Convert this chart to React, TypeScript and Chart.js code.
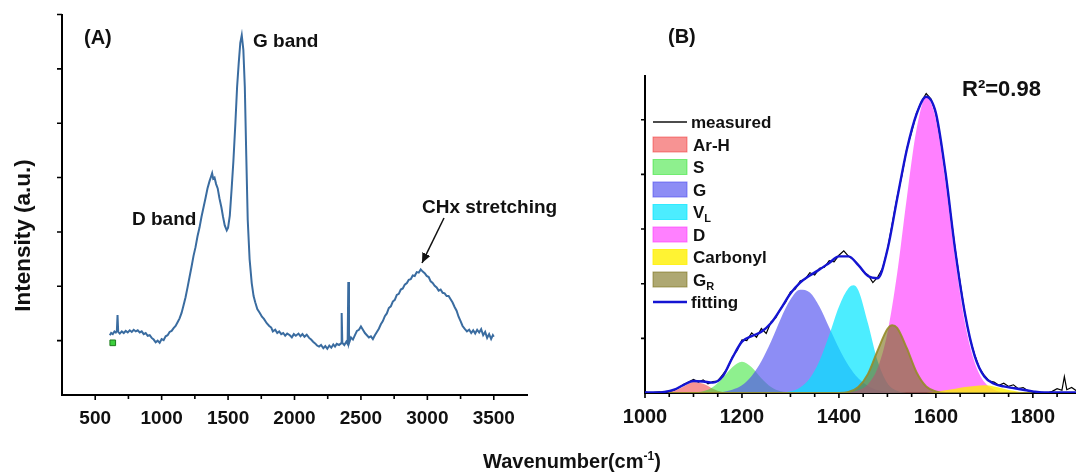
import React, { useEffect, useRef } from "react";
import { Chart, registerables } from "chart.js";

Chart.register(...registerables);

const FONT = "'Liberation Sans', Arial, Helvetica, sans-serif";

// ---------------- Panel A : full Raman spectrum ----------------
const specAX = [
  610, 620, 632, 645, 655, 663, 668, 673, 685, 700,
  715, 730, 745, 760, 775, 790, 805, 820, 835, 850,
  865, 880, 895, 910, 925, 940, 955, 970, 985, 1000,
  1015, 1030, 1045, 1060, 1075, 1090, 1105, 1120, 1135, 1150,
  1165, 1180, 1195, 1210, 1225, 1240, 1255, 1270, 1285, 1300,
  1315, 1330, 1345, 1360, 1372, 1380, 1388, 1398, 1410, 1422,
  1435, 1450, 1462, 1475, 1490, 1500, 1513, 1527, 1540, 1555,
  1568, 1580, 1592, 1603, 1615, 1626, 1637, 1648, 1662, 1678,
  1692, 1705, 1720, 1739, 1755, 1770, 1791, 1810, 1825, 1837,
  1855, 1870, 1885, 1900, 1915, 1930, 1945, 1965, 1980, 1995,
  2010, 2030, 2045, 2060, 2075, 2092, 2110, 2125, 2140, 2155,
  2170, 2185, 2200, 2217, 2232, 2247, 2262, 2277, 2292, 2305,
  2318, 2335, 2350, 2355, 2360, 2375, 2390, 2400, 2405, 2410,
  2425, 2440, 2455, 2470, 2485, 2500, 2515, 2530, 2545, 2560,
  2575, 2590, 2605, 2620, 2635, 2650, 2665, 2680, 2695, 2710,
  2725, 2740, 2755, 2770, 2785, 2800, 2815, 2830, 2846, 2860,
  2875, 2890, 2905, 2920, 2935, 2950, 2965, 2980, 2995, 3010,
  3025, 3040, 3055, 3070, 3085, 3100, 3115, 3130, 3145, 3160,
  3175, 3190, 3205, 3220, 3235, 3250, 3265, 3280, 3298, 3315,
  3330, 3345, 3360, 3375, 3390, 3405, 3420, 3435, 3450, 3465,
  3480, 3493, 3500,
];
const specAY = [
  1.1, 1.14, 1.12, 1.17, 1.15, 1.18, 1.47, 1.16, 1.13, 1.17,
  1.14, 1.18, 1.15, 1.19, 1.16, 1.2, 1.17, 1.19, 1.15, 1.17,
  1.12, 1.14, 1.09, 1.1, 1.05, 1.02, 0.97, 1.0, 0.96, 1.03,
  1.01, 1.08, 1.1, 1.16, 1.18, 1.23, 1.27, 1.34, 1.41, 1.51,
  1.65, 1.8, 1.98, 2.17, 2.36, 2.56, 2.72, 2.92, 3.08, 3.28,
  3.45, 3.62, 3.8, 3.93, 4.02, 4.08, 3.98, 4.0, 3.88, 3.8,
  3.62, 3.45, 3.28, 3.12, 3.03, 3.08, 3.3, 3.8, 4.3, 5.0,
  5.67, 6.1, 6.48, 6.62, 6.35, 5.67, 4.4, 3.22, 2.5, 2.06,
  1.82, 1.7, 1.58, 1.51, 1.44, 1.4, 1.32, 1.27, 1.24, 1.17,
  1.2, 1.14, 1.17, 1.12, 1.14, 1.09, 1.13, 1.1, 1.06, 1.12,
  1.09, 1.13, 1.08, 1.12, 1.07, 1.11, 1.05, 1.02, 0.98, 0.95,
  0.91, 0.89, 0.92, 0.86, 0.9, 0.85, 0.91, 0.87, 0.93, 0.89,
  0.94, 0.92, 0.95, 1.51, 0.96, 0.92, 0.98, 0.94, 2.08, 0.95,
  1.06, 1.02, 1.1, 1.18, 1.2, 1.26, 1.2, 1.14, 1.1, 1.06,
  1.08, 1.03, 1.1, 1.16, 1.22, 1.3, 1.36, 1.45, 1.5, 1.6,
  1.63, 1.72, 1.75, 1.84, 1.86, 1.94, 1.96, 2.03, 2.06, 2.12,
  2.13, 2.2, 2.19, 2.26, 2.25, 2.31, 2.27, 2.24, 2.19, 2.17,
  2.09, 2.06, 2.01, 1.98, 1.92, 1.94, 1.88, 1.87, 1.82, 1.82,
  1.76, 1.7, 1.62, 1.55, 1.44, 1.36, 1.27, 1.22, 1.17, 1.2,
  1.14, 1.19, 1.13, 1.2, 1.15, 1.21, 1.1, 1.16, 1.05, 1.12,
  1.03, 1.1, 1.07,
];
const markerAX = [632];
const markerAY = [0.96];
const xTicksAMajor = [500, 1000, 1500, 2000, 2500, 3000, 3500];
const xTicksAMinor = [750, 1250, 1750, 2250, 2750, 3250];
const yTicksA = [1, 2, 3, 4, 5, 6, 7];

// ---------------- Panel B : peak fitting 1000-1890 cm-1 ----------------
const measuredX = [
  1000, 1010, 1020, 1030, 1040, 1050, 1060, 1070, 1080, 1090,
  1100, 1110, 1120, 1130, 1140, 1150, 1160, 1170, 1180, 1190,
  1200, 1210, 1220, 1230, 1240, 1250, 1260, 1270, 1280, 1290,
  1300, 1310, 1320, 1330, 1340, 1350, 1360, 1370, 1380, 1390,
  1400, 1410, 1420, 1430, 1440, 1450, 1460, 1470, 1480, 1490,
  1500, 1510, 1520, 1530, 1540, 1550, 1560, 1570, 1580, 1590,
  1600, 1610, 1620, 1630, 1640, 1650, 1660, 1670, 1680, 1690,
  1700, 1710, 1720, 1730, 1740, 1750, 1760, 1770, 1780, 1790,
  1800, 1810, 1820, 1830, 1840, 1850, 1860, 1865, 1870, 1880,
  1890,
];
const measuredY = [
  0.02, 0.0, 0.01, 0.02, 0.0, 0.03, 0.05, 0.1, 0.16, 0.2,
  0.25, 0.2, 0.24, 0.17, 0.21, 0.22, 0.33, 0.45, 0.66, 0.78,
  0.97, 0.96, 1.1, 1.02, 1.18, 1.09, 1.3, 1.38, 1.55, 1.66,
  1.85, 1.9, 2.05, 2.08, 2.2, 2.16, 2.28, 2.3, 2.42, 2.4,
  2.52, 2.6, 2.5, 2.44, 2.35, 2.22, 2.16, 2.02, 2.12, 2.28,
  2.62, 3.1, 3.58, 3.98, 4.47, 4.78, 5.12, 5.33, 5.48, 5.38,
  5.12, 4.62, 4.02, 3.3, 2.62, 2.02, 1.44, 1.0, 0.7, 0.45,
  0.32, 0.22, 0.2, 0.14, 0.18, 0.12, 0.15, 0.08, 0.1, 0.04,
  0.02, 0.0, 0.01, 0.0, 0.03, 0.08, 0.05, 0.3, 0.06, 0.1,
  0.04,
];
const fitX = [
  1000, 1020, 1040, 1060, 1080, 1100, 1120, 1140, 1160, 1180,
  1200, 1220, 1240, 1260, 1280, 1300, 1320, 1340, 1360, 1380,
  1400, 1420, 1440, 1460, 1480, 1500, 1520, 1540, 1560, 1580,
  1600, 1620, 1640, 1660, 1680, 1700, 1720, 1740, 1760, 1780,
  1800, 1820, 1840, 1860, 1880, 1890,
];
const fitY = [
  0.01, 0.01, 0.02, 0.06, 0.15, 0.22, 0.21, 0.19, 0.3, 0.64,
  0.94, 1.04, 1.12, 1.28, 1.54, 1.82, 2.02, 2.15, 2.26, 2.38,
  2.5, 2.5, 2.34, 2.14, 2.1, 2.62, 3.55, 4.45, 5.1, 5.42,
  5.12, 4.02, 2.6, 1.45, 0.68, 0.3, 0.17, 0.12, 0.09, 0.06,
  0.03, 0.01, 0.01, 0.01, 0.01, 0.01,
];
const arhX = [1040, 1060, 1080, 1100, 1120, 1140, 1160, 1180];
const arhY = [0, 0.04, 0.12, 0.2, 0.17, 0.08, 0.02, 0];
const sX = [1080, 1100, 1120, 1140, 1160, 1180, 1200, 1220, 1240, 1260, 1280, 1300, 1320];
const sY = [0, 0.01, 0.03, 0.11, 0.27, 0.47, 0.57, 0.47, 0.27, 0.11, 0.03, 0.01, 0];
const gX = [1140, 1160, 1180, 1200, 1220, 1240, 1260, 1280, 1300, 1320, 1340, 1360, 1380, 1400, 1420, 1440, 1460, 1480, 1500, 1520];
const gY = [0, 0.02, 0.06, 0.14, 0.31, 0.58, 0.94, 1.36, 1.71, 1.89, 1.84, 1.58, 1.2, 0.82, 0.5, 0.27, 0.13, 0.05, 0.02, 0];
const vlX = [1280, 1300, 1320, 1340, 1360, 1380, 1400, 1420, 1430, 1440, 1460, 1480, 1500, 1520, 1540];
const vlY = [0, 0.03, 0.1, 0.27, 0.59, 1.06, 1.58, 1.92, 1.97, 1.88, 1.27, 0.58, 0.18, 0.04, 0];
const dX = [1400, 1420, 1440, 1460, 1480, 1500, 1520, 1540, 1560, 1580, 1600, 1620, 1640, 1660, 1680, 1700, 1720, 1740, 1760];
const dY = [0, 0.01, 0.05, 0.16, 0.46, 1.1, 2.18, 3.57, 4.82, 5.41, 5.01, 3.85, 2.44, 1.28, 0.56, 0.2, 0.06, 0.01, 0];
const carbX = [1580, 1600, 1620, 1640, 1660, 1680, 1700, 1720, 1740, 1760, 1780, 1800];
const carbY = [0, 0.02, 0.05, 0.08, 0.11, 0.13, 0.14, 0.12, 0.08, 0.04, 0.01, 0];
const grX = [1000, 1400, 1420, 1440, 1460, 1480, 1500, 1510, 1520, 1540, 1560, 1580, 1600, 1620, 1800];
const grY = [0, 0, 0.02, 0.11, 0.35, 0.78, 1.17, 1.24, 1.19, 0.82, 0.38, 0.12, 0.03, 0, 0];
const xTicksBMajor = [1000, 1200, 1400, 1600, 1800];
const xTicksBMinor = [1050, 1100, 1150, 1250, 1300, 1350, 1450, 1500, 1550, 1650, 1700, 1750, 1850];
const yTicksB = [1, 2, 3, 4, 5];

const C_ARH = "rgba(240,40,40,0.5)";
const C_S = "rgba(30,225,30,0.5)";
const C_G = "rgba(80,80,240,0.65)";
const C_VL = "rgba(0,230,255,0.7)";
const C_D = "rgba(255,60,255,0.65)";
const C_CARB = "rgba(255,240,0,0.8)";
const C_GR = "rgba(120,110,20,0.6)";
const C_FIT = "rgb(20,20,210)";
const C_SPEC = "rgb(58,108,160)";

const pts = (xs: number[], ys: number[]) => xs.map((x, i) => ({ x, y: ys[i] }));

const tickMarksPlugin = {
  id: "tickMarks",
  afterDraw(chart: any, _args: any, opts: any) {
    const { ctx, chartArea } = chart;
    const xs = chart.scales.x;
    const ys = chart.scales.y;
    ctx.save();
    ctx.strokeStyle = "#000";
    ctx.lineWidth = opts.lineWidth || 1.5;
    ctx.beginPath();
    const b = chartArea.bottom;
    const l = chartArea.left;
    (opts.xMajor || []).forEach((v: number) => {
      const p = xs.getPixelForValue(v);
      ctx.moveTo(p, b);
      ctx.lineTo(p, b + opts.majorLen);
    });
    (opts.xMinor || []).forEach((v: number) => {
      const p = xs.getPixelForValue(v);
      ctx.moveTo(p, b);
      ctx.lineTo(p, b + opts.minorLen);
    });
    (opts.yMajor || []).forEach((v: number) => {
      const p = ys.getPixelForValue(v);
      ctx.moveTo(l, p);
      ctx.lineTo(l - opts.yLen, p);
    });
    ctx.stroke();
    ctx.restore();
  },
};

function makeA(canvas: HTMLCanvasElement) {
  return new Chart(canvas, {
    type: "line",
    data: {
      datasets: [
        {
          data: pts(markerAX, markerAY),
          showLine: false,
          pointStyle: "rect",
          pointRadius: 4,
          pointBackgroundColor: "#3ccf3c",
          pointBorderColor: "#1f7a1f",
          pointBorderWidth: 1,
        },
        {
          data: pts(specAX, specAY),
          borderColor: C_SPEC,
          borderWidth: 2,
          pointRadius: 0,
          tension: 0,
          fill: false,
        },
      ],
    },
    options: {
      animation: false,
      responsive: false,
      maintainAspectRatio: false,
      events: [],
      layout: { padding: { left: 62, right: 18, top: 14.5, bottom: 0 } },
      plugins: {
        legend: { display: false },
        tooltip: { enabled: false },
        tickMarks: { xMajor: xTicksAMajor, xMinor: xTicksAMinor, yMajor: yTicksA, majorLen: 5, minorLen: 4, yLen: 5, lineWidth: 1.6 },
      } as any,
      scales: {
        x: {
          type: "linear",
          min: 250,
          max: 3750,
          grid: { display: true, drawOnChartArea: false, drawTicks: false },
          border: { display: true, color: "#000", width: 2 },
          ticks: {
            autoSkip: false,
            maxRotation: 0,
            padding: 12,
            color: "#111",
            font: { family: FONT, size: 19, weight: "bold" },
            callback: (v: any) => String(v),
          },
          afterBuildTicks: (s: any) => {
            s.ticks = xTicksAMajor.map((v) => ({ value: v }));
          },
          afterFit: (s: any) => {
            s.height = 78;
          },
        },
        y: {
          type: "linear",
          min: 0,
          max: 7,
          grid: { display: true, drawOnChartArea: false, drawTicks: false },
          border: { display: true, color: "#000", width: 2 },
          ticks: { display: false },
          afterFit: (s: any) => {
            s.width = 0;
          },
        },
      },
    },
    plugins: [tickMarksPlugin],
  } as any);
}

function comp(data: any, color: string, extra: any = {}) {
  return {
    data,
    backgroundColor: color,
    borderColor: color,
    borderWidth: 0,
    pointRadius: 0,
    fill: "origin",
    cubicInterpolationMode: "monotone",
    ...extra,
  };
}

function makeB(canvas: HTMLCanvasElement) {
  return new Chart(canvas, {
    type: "line",
    data: {
      datasets: [
        {
          data: pts(fitX, fitY),
          borderColor: C_FIT,
          borderWidth: 2.4,
          pointRadius: 0,
          fill: false,
          cubicInterpolationMode: "monotone",
        },
        {
          data: pts(measuredX, measuredY),
          borderColor: "#000",
          borderWidth: 1.2,
          pointRadius: 0,
          fill: false,
          tension: 0,
        },
        comp(pts(grX, grY), C_GR, { borderWidth: 2, borderColor: "rgba(150,140,40,0.9)" }),
        comp(pts(carbX, carbY), C_CARB),
        comp(pts(dX, dY), C_D),
        comp(pts(vlX, vlY), C_VL),
        comp(pts(gX, gY), C_G),
        comp(pts(sX, sY), C_S),
        comp(pts(arhX, arhY), C_ARH),
      ],
    },
    options: {
      animation: false,
      responsive: false,
      maintainAspectRatio: false,
      events: [],
      layout: { padding: { left: 85, right: 0, top: 76, bottom: 0 } },
      plugins: {
        legend: { display: false },
        tooltip: { enabled: false },
        tickMarks: { xMajor: xTicksBMajor, xMinor: xTicksBMinor, yMajor: yTicksB, majorLen: 5, minorLen: 4, yLen: 4, lineWidth: 1.6 },
      } as any,
      scales: {
        x: {
          type: "linear",
          min: 1000,
          max: 1889,
          grid: { display: true, drawOnChartArea: false, drawTicks: false },
          border: { display: true, color: "#000", width: 2 },
          ticks: {
            autoSkip: false,
            maxRotation: 0,
            padding: 12,
            color: "#111",
            font: { family: FONT, size: 20, weight: "bold" },
            callback: (v: any) => String(v),
          },
          afterBuildTicks: (s: any) => {
            s.ticks = xTicksBMajor.map((v) => ({ value: v }));
          },
          afterFit: (s: any) => {
            s.height = 80;
          },
        },
        y: {
          type: "linear",
          min: 0,
          max: 5.8,
          grid: { display: true, drawOnChartArea: false, drawTicks: false },
          border: { display: true, color: "#000", width: 2 },
          ticks: { display: false },
          afterFit: (s: any) => {
            s.width = 0;
          },
        },
      },
    },
    plugins: [tickMarksPlugin],
  } as any);
}

const legendRows = [
  { label: "Ar-H", color: C_ARH, sub: "" },
  { label: "S", color: C_S, sub: "" },
  { label: "G", color: C_G, sub: "" },
  { label: "V", color: C_VL, sub: "L" },
  { label: "D", color: C_D, sub: "" },
  { label: "Carbonyl", color: C_CARB, sub: "" },
  { label: "G", color: C_GR, sub: "R" },
];

export default function App() {
  const aRef = useRef<HTMLCanvasElement>(null);
  const bRef = useRef<HTMLCanvasElement>(null);

  useEffect(() => {
    const ca = makeA(aRef.current as HTMLCanvasElement);
    const cb = makeB(bRef.current as HTMLCanvasElement);
    return () => {
      ca.destroy();
      cb.destroy();
    };
  }, []);

  const rowY0 = 122;
  const rowStep = 22.5;

  return (
    <div style={{ position: "fixed", left: 0, top: 0, width: 1076, height: 473, background: "#fff", overflow: "hidden" }}>
      <canvas ref={aRef} width={545} height={473} style={{ position: "absolute", left: 0, top: 0 }} />
      <canvas ref={bRef} width={516} height={473} style={{ position: "absolute", left: 560, top: 0 }} />
      <svg
        width={1076}
        height={473}
        style={{ position: "absolute", left: 0, top: 0, pointerEvents: "none" }}
        fontFamily={FONT}
        fontWeight="bold"
        fill="#111"
      >
        <defs>
          <marker id="ah" markerUnits="userSpaceOnUse" markerWidth="10" markerHeight="9" refX="10" refY="4.5" orient="auto">
            <path d="M0,0 L10,4.5 L0,9 z" fill="#111" />
          </marker>
        </defs>
        {/* Panel A annotations */}
        <text x={84} y={44} fontSize={20}>(A)</text>
        <text x={253} y={46.5} fontSize={19}>G band</text>
        <text x={132} y={225} fontSize={19}>D band</text>
        <text x={422} y={213} fontSize={19}>CHx stretching</text>
        <line x1={444} y1={218} x2={422} y2={263} stroke="#111" strokeWidth={1.5} markerEnd="url(#ah)" />
        <text transform="translate(29.5,235.5) rotate(-90)" textAnchor="middle" fontSize={22.5}>Intensity (a.u.)</text>
        {/* shared x title */}
        <text x={572} y={468} textAnchor="middle" fontSize={20}>
          Wavenumber(cm<tspan fontSize={12} dy={-8}>-1</tspan>
          <tspan dy={8}>)</tspan>
        </text>
        {/* Panel B annotations */}
        <text x={668} y={43} fontSize={20}>(B)</text>
        <text x={962} y={96} fontSize={22}>R²=0.98</text>
        {/* legend */}
        <line x1={653} y1={rowY0} x2={687} y2={rowY0} stroke="#111" strokeWidth={1.5} />
        <text x={691} y={rowY0 + 6} fontSize={17}>measured</text>
        {legendRows.map((r, i) => {
          const cy = rowY0 + rowStep * (i + 1);
          return (
            <g key={i}>
              <rect x={653} y={cy - 7.5} width={34} height={15} fill={r.color} stroke={r.color} strokeWidth={1} />
              <text x={693} y={cy + 6} fontSize={17}>
                {r.label}
                {r.sub ? (
                  <tspan fontSize={11} dy={4}>
                    {r.sub}
                  </tspan>
                ) : null}
              </text>
            </g>
          );
        })}
        <line x1={653} y1={rowY0 + rowStep * 8} x2={687} y2={rowY0 + rowStep * 8} stroke={C_FIT} strokeWidth={2.5} />
        <text x={691} y={rowY0 + rowStep * 8 + 6} fontSize={17}>fitting</text>
      </svg>
    </div>
  );
}
